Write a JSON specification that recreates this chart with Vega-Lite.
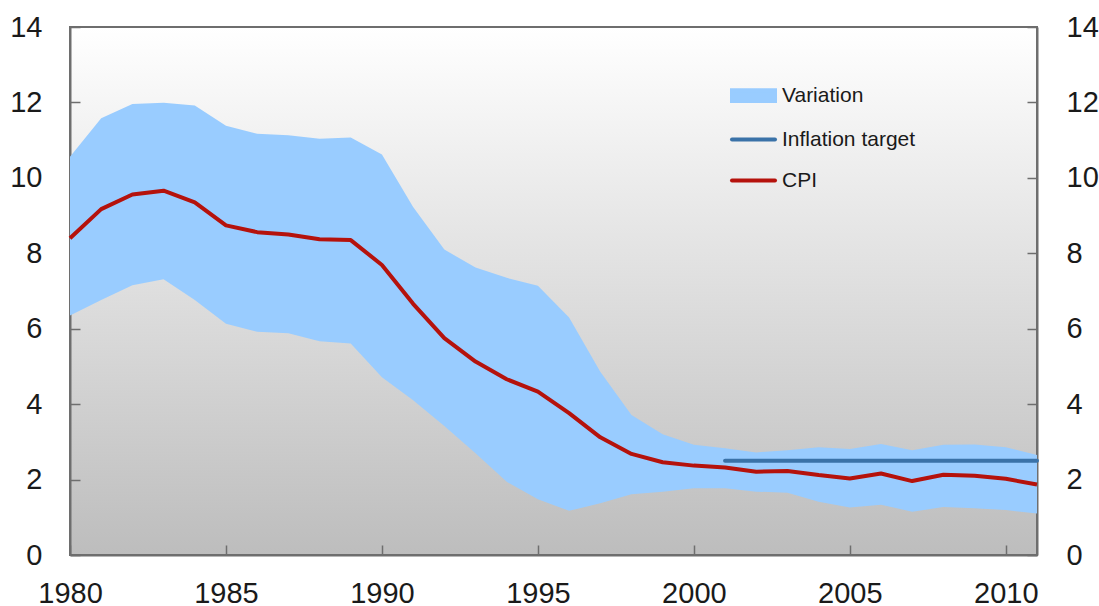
{
  "$schema": "https://vega.github.io/schema/vega-lite/v6.json",
  "width": 967,
  "height": 528,
  "autosize": "none",
  "padding": {"left": 70, "top": 27, "right": 62, "bottom": 51},
  "background": "white",
  "config": {
    "font": "Liberation Sans",
    "view": {
      "fill": {"gradient": "linear", "x1": 0, "y1": 0, "x2": 0, "y2": 1, "stops": [{"offset": 0, "color": "#ffffff"}, {"offset": 1, "color": "#bdbdbd"}]},
      "stroke": "#6e6e6e",
      "strokeWidth": 2
    },
    "axis": {
      "grid": false,
      "domainColor": "#6e6e6e",
      "domainWidth": 2,
      "tickColor": "#6e6e6e",
      "tickWidth": 1.5,
      "tickSize": -10,
      "labelFontSize": 29,
      "labelColor": "#1a1a1a",
      "labelFont": "Liberation Sans",
      "title": null
    }
  },
  "data": {
    "values": [
      {"year": 1980, "cpi": 8.40, "lo": 6.35, "hi": 10.56, "target": null},
      {"year": 1981, "cpi": 9.17, "lo": 6.76, "hi": 11.58, "target": null},
      {"year": 1982, "cpi": 9.56, "lo": 7.15, "hi": 11.96, "target": null},
      {"year": 1983, "cpi": 9.66, "lo": 7.31, "hi": 11.99, "target": null},
      {"year": 1984, "cpi": 9.35, "lo": 6.76, "hi": 11.92, "target": null},
      {"year": 1985, "cpi": 8.74, "lo": 6.13, "hi": 11.38, "target": null},
      {"year": 1986, "cpi": 8.56, "lo": 5.92, "hi": 11.17, "target": null},
      {"year": 1987, "cpi": 8.50, "lo": 5.88, "hi": 11.13, "target": null},
      {"year": 1988, "cpi": 8.37, "lo": 5.67, "hi": 11.04, "target": null},
      {"year": 1989, "cpi": 8.35, "lo": 5.61, "hi": 11.07, "target": null},
      {"year": 1990, "cpi": 7.69, "lo": 4.71, "hi": 10.62, "target": null},
      {"year": 1991, "cpi": 6.66, "lo": 4.10, "hi": 9.23, "target": null},
      {"year": 1992, "cpi": 5.75, "lo": 3.42, "hi": 8.10, "target": null},
      {"year": 1993, "cpi": 5.13, "lo": 2.70, "hi": 7.62, "target": null},
      {"year": 1994, "cpi": 4.66, "lo": 1.94, "hi": 7.35, "target": null},
      {"year": 1995, "cpi": 4.33, "lo": 1.48, "hi": 7.14, "target": null},
      {"year": 1996, "cpi": 3.76, "lo": 1.17, "hi": 6.30, "target": null},
      {"year": 1997, "cpi": 3.12, "lo": 1.37, "hi": 4.86, "target": null},
      {"year": 1998, "cpi": 2.68, "lo": 1.61, "hi": 3.71, "target": null},
      {"year": 1999, "cpi": 2.46, "lo": 1.68, "hi": 3.20, "target": null},
      {"year": 2000, "cpi": 2.37, "lo": 1.77, "hi": 2.92, "target": null},
      {"year": 2001, "cpi": 2.32, "lo": 1.77, "hi": 2.83, "target": 2.5},
      {"year": 2002, "cpi": 2.21, "lo": 1.68, "hi": 2.72, "target": 2.5},
      {"year": 2003, "cpi": 2.23, "lo": 1.65, "hi": 2.78, "target": 2.5},
      {"year": 2004, "cpi": 2.12, "lo": 1.41, "hi": 2.86, "target": 2.5},
      {"year": 2005, "cpi": 2.03, "lo": 1.26, "hi": 2.81, "target": 2.5},
      {"year": 2006, "cpi": 2.16, "lo": 1.33, "hi": 2.94, "target": 2.5},
      {"year": 2007, "cpi": 1.96, "lo": 1.15, "hi": 2.78, "target": 2.5},
      {"year": 2008, "cpi": 2.13, "lo": 1.27, "hi": 2.92, "target": 2.5},
      {"year": 2009, "cpi": 2.10, "lo": 1.24, "hi": 2.93, "target": 2.5},
      {"year": 2010, "cpi": 2.02, "lo": 1.19, "hi": 2.86, "target": 2.5},
      {"year": 2011, "cpi": 1.87, "lo": 1.10, "hi": 2.65, "target": 2.5}
    ]
  },
  "encoding": {
    "x": {
      "field": "year",
      "type": "quantitative",
      "scale": {"domain": [1980, 2011], "nice": false, "zero": false},
      "axis": {"values": [1980, 1985, 1990, 1995, 2000, 2005, 2010], "format": "d", "labelPadding": 34, "labelFlush": false, "labelOverlap": false}
    }
  },
  "layer": [
    {
      "mark": {"type": "area", "opacity": 1, "line": false},
      "encoding": {
        "y": {"field": "lo", "type": "quantitative", "scale": {"domain": [0, 14], "nice": false}, "axis": {"orient": "left", "values": [0, 2, 4, 6, 8, 10, 12, 14], "labelPadding": 38, "labelOverlap": false}},
        "y2": {"field": "hi"},
        "color": {"datum": "Variation", "type": "nominal"}
      }
    },
    {
      "transform": [{"filter": "datum.target != null"}],
      "mark": {"type": "line", "strokeWidth": 4, "strokeCap": "round"},
      "encoding": {
        "y": {"field": "target", "type": "quantitative", "axis": null},
        "color": {"datum": "Inflation target", "type": "nominal"}
      }
    },
    {
      "mark": {"type": "line", "strokeWidth": 4, "strokeJoin": "round"},
      "encoding": {
        "y": {"field": "cpi", "type": "quantitative", "axis": {"orient": "right", "values": [0, 2, 4, 6, 8, 10, 12, 14], "labelPadding": 39, "labelOverlap": false}},
        "color": {
          "datum": "CPI",
          "type": "nominal",
          "scale": {"domain": ["Variation", "Inflation target", "CPI"], "range": ["#99ccff", "#3a72a8", "#b5120c"]},
          "legend": {
            "title": null,
            "orient": "none",
            "legendX": 660,
            "legendY": 45,
            "padding": 0,
            "rowPadding": 7,
            "labelFontSize": 21,
            "labelColor": "#1a1a1a",
            "labelOffset": 5,
            "symbolSize": 1849,
            "symbolType": "stroke",
            "symbolStrokeWidth": 4,
            "encode": {
              "symbols": {
                "update": {
                  "shape": {"signal": "datum.value === 'Variation' ? 'M-1,-0.25H1V0.25H-1Z' : 'stroke'"},
                  "fill": {"signal": "datum.value === 'Variation' ? '#99ccff' : 'transparent'"},
                  "stroke": {"signal": "datum.value === 'Variation' ? 'transparent' : (datum.value === 'CPI' ? '#b5120c' : '#3a72a8')"},
                  "strokeWidth": {"value": 4},
                  "strokeCap": {"value": "round"},
                  "opacity": {"value": 1}
                }
              }
            }
          }
        }
      }
    }
  ],
  "resolve": {"axis": {"y": "independent"}}
}
